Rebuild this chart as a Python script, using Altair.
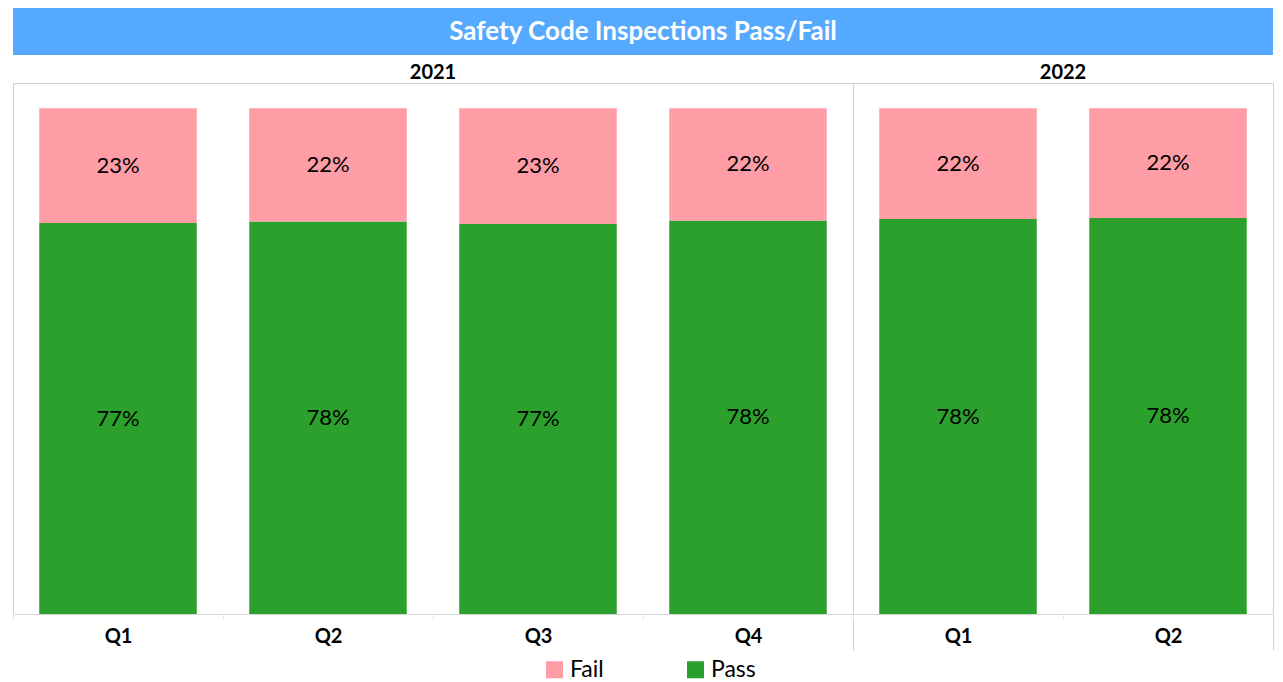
import altair as alt
import pandas as pd

TITLE = "Safety Code Inspections Pass/Fail"
years = ["2021", "2021", "2021", "2021", "2022", "2022"]
quarters = ["Q1", "Q2", "Q3", "Q4", "Q1", "Q2"]
pass_share = [0.773, 0.776, 0.771, 0.778, 0.781, 0.783]
fail_share = [0.227, 0.224, 0.229, 0.222, 0.219, 0.217]
statuses = ["Fail", "Pass"]
colors = ["#FF9DA7", "#2CA02C"]
BLUE = "#55AAFF"
FONT = "Lato"

rows = []
for y, q, p, f in zip(years, quarters, pass_share, fail_share):
    rows.append({"year": y, "quarter": q, "status": "Pass", "ord": 0, "value": p})
    rows.append({"year": y, "quarter": q, "status": "Fail", "ord": 1, "value": f})
df = pd.DataFrame(rows)

base = alt.Chart().transform_stack(
    stack="value", groupby=["year", "quarter"], as_=["v0", "v1"],
    sort=[alt.SortField("ord", order="ascending")]
).transform_calculate(mid="(datum.v0 + datum.v1) / 2")

xenc = alt.X("quarter:N", title=None, sort=["Q1", "Q2", "Q3", "Q4"],
             scale=alt.Scale(paddingInner=0, paddingOuter=0),
             axis=alt.Axis(labelAngle=0, labelFontSize=20, labelFontWeight="bold",
                           labelColor="black", labelFont=FONT, labelPadding=-24,
                           domainColor="#d9d9d9", tickBand="extent", tickSize=36,
                           tickColor={"condition": {"test": "datum.index == 1", "value": "#d0d0d0"},
                                      "value": "#e8e8e8"},
                           tickDash={"condition": {"test": "datum.index == 1", "value": [40, 1]},
                                     "value": [6, 60]}))
yscale = alt.Scale(domain=[0, 1.05])

bars = base.mark_bar(width=alt.RelativeBandSize(0.75)).encode(
    x=xenc,
    y=alt.Y("v0:Q", scale=yscale, axis=None),
    y2="v1:Q",
    color=alt.Color("status:N", scale=alt.Scale(domain=statuses, range=colors),
                    legend=alt.Legend(title=None, orient="none", direction="horizontal",
                                      legendX=530, legendY=650,
                                      symbolType="square", symbolSize=289,
                                      symbolStrokeWidth=0, labelFontSize=23,
                                      labelFont=FONT, labelColor="black",
                                      columnPadding=80, symbolOffset=0)),
    order=alt.Order("ord:Q"),
)
labels = base.mark_text(fontSize=22, font=FONT, color="black").encode(
    x=alt.X("quarter:N", sort=["Q1", "Q2", "Q3", "Q4"]),
    y=alt.Y("mid:Q", scale=yscale, axis=None),
    text=alt.Text("value:Q", format=".0%"),
)

panel = alt.layer(bars, labels, data=df).properties(
    width=alt.Step(210), height=531
).facet(
    column=alt.Column("year:N", title=None,
                      header=alt.Header(labelFontSize=20, labelFontWeight="bold",
                                        labelColor="black", labelFont=FONT,
                                        labelPadding=0))
).resolve_scale(x="independent").properties(spacing=0, bounds="flush")

title_df = pd.DataFrame({"t": [TITLE]})
title_band = alt.Chart(title_df).mark_text(
    color="white", fontSize=26, fontWeight="bold", font=FONT
).encode(
    x=alt.X("t:N", axis=None),
    y=alt.Y("t:N", axis=None),
    text="t:N",
).properties(width=1260, height=47,
             view=alt.ViewBackground(fill=BLUE, stroke=None))

chart = alt.vconcat(title_band, panel, spacing=8).properties(
    padding={"left": 4, "top": 0, "right": 0, "bottom": 0}
).configure_view(stroke="#d0d0d0").configure_facet(spacing=0)

chart.save("out.html", embed_options={"renderer": "svg", "actions": False})
